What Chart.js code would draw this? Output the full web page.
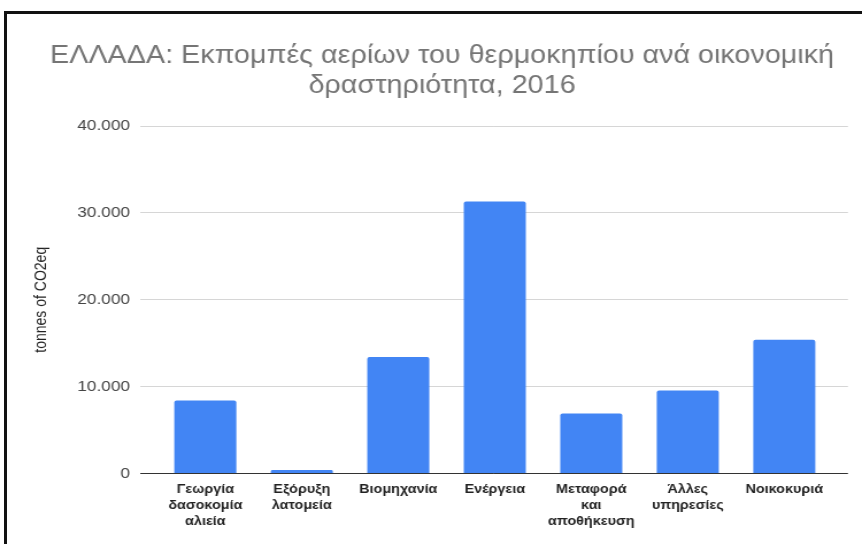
<!DOCTYPE html>
<html>
<head>
<meta charset="utf-8">
<script src="https://cdn.jsdelivr.net/npm/chart.js@4"></script>
<style>
    html, body { margin: 0; padding: 0; background: #fff; overflow: hidden; }
    .frame {
        position: absolute; left: 4px; top: 11px; width: 900px; height: 600px;
        border-top: 3px solid #111; border-left: 3px solid #111;
    }
    /* chart text is set a little wide, so the canvas is drawn narrow and stretched */
    #chart { position: absolute; left: 0; top: 0; transform: scaleX(1.1493); transform-origin: 0 0; }
</style>
</head>
<body>
<div class="frame"></div>
<canvas id="chart" width="750" height="544"></canvas>
<script>
const titleLines = ['ΕΛΛΑΔΑ: Εκπομπές αερίων του θερμοκηπίου ανά οικονομική', 'δραστηριότητα, 2016'];
const categories = [
    ['Γεωργία', 'δασοκομία', 'αλιεία'],
    ['Εξόρυξη', 'λατομεία'],
    ['Βιομηχανία'],
    ['Ενέργεια'],
    ['Μεταφορά', 'και', 'αποθήκευση'],
    ['Άλλες', 'υπηρεσίες'],
    ['Νοικοκυριά']
];
const emissions = [8400, 400, 13400, 31300, 6900, 9550, 15400];
const yTicks = [0, 10000, 20000, 30000, 40000];
const yLabel = 'tonnes of CO2eq';

const font = "Arial, 'Liberation Sans', sans-serif";

// bars sit on a linear x scale so the grid can run past the outer bars
const points = emissions.map((v, i) => ({x: i, y: v}));

const config = {
    type: 'bar',
    data: {
        datasets: [{
            data: points,
            backgroundColor: '#4285f4',
            borderRadius: 2,
            borderSkipped: 'bottom',
            categoryPercentage: 1,
            barPercentage: 0.643
        }]
    },
    options: {
        responsive: false,
        animation: false,
        layout: {padding: {left: 31.4, right: 12.2, top: 0, bottom: 0}},
        plugins: {
            legend: {display: false},
            tooltip: {enabled: false},
            title: {
                display: true,
                text: titleLines,
                color: '#757575',
                font: {family: font, size: 25, weight: 'normal', lineHeight: 1.18},
                padding: {top: 41.5, bottom: 25.5}
            }
        },
        scales: {
            x: {
                type: 'linear',
                offset: false,
                min: -0.677,
                max: 6.66,
                grid: {display: false, drawTicks: false},
                border: {display: false},
                afterBuildTicks: scale => {
                    scale.ticks = categories.map((_, i) => ({value: i}));
                },
                afterFit: scale => { scale.height = 70.5; },
                ticks: {
                    autoSkip: false,
                    maxRotation: 0,
                    padding: 8,
                    color: '#222',
                    font: {family: font, size: 12.5, weight: 'bold', lineHeight: 1.28},
                    callback: value => categories[value]
                }
            },
            y: {
                min: 0,
                max: 40000,
                border: {display: false},
                afterBuildTicks: scale => {
                    scale.ticks = yTicks.map(v => ({value: v}));
                },
                afterFit: scale => { scale.width = 90.4; },
                grid: {
                    drawTicks: false,
                    color: ctx => ctx.tick && ctx.tick.value === 0 ? '#333' : '#d6d6d6'
                },
                ticks: {
                    padding: 8.7,
                    color: '#444',
                    font: {family: font, size: 15},
                    callback: value => value.toLocaleString('de-DE')
                },
                title: {
                    display: true,
                    text: yLabel,
                    color: '#222',
                    font: {family: font, size: 14},
                    padding: {top: -3.3, bottom: 0}
                }
            }
        }
    }
};

const myChart = new Chart(document.getElementById('chart'), config);
</script>
</body>
</html>
